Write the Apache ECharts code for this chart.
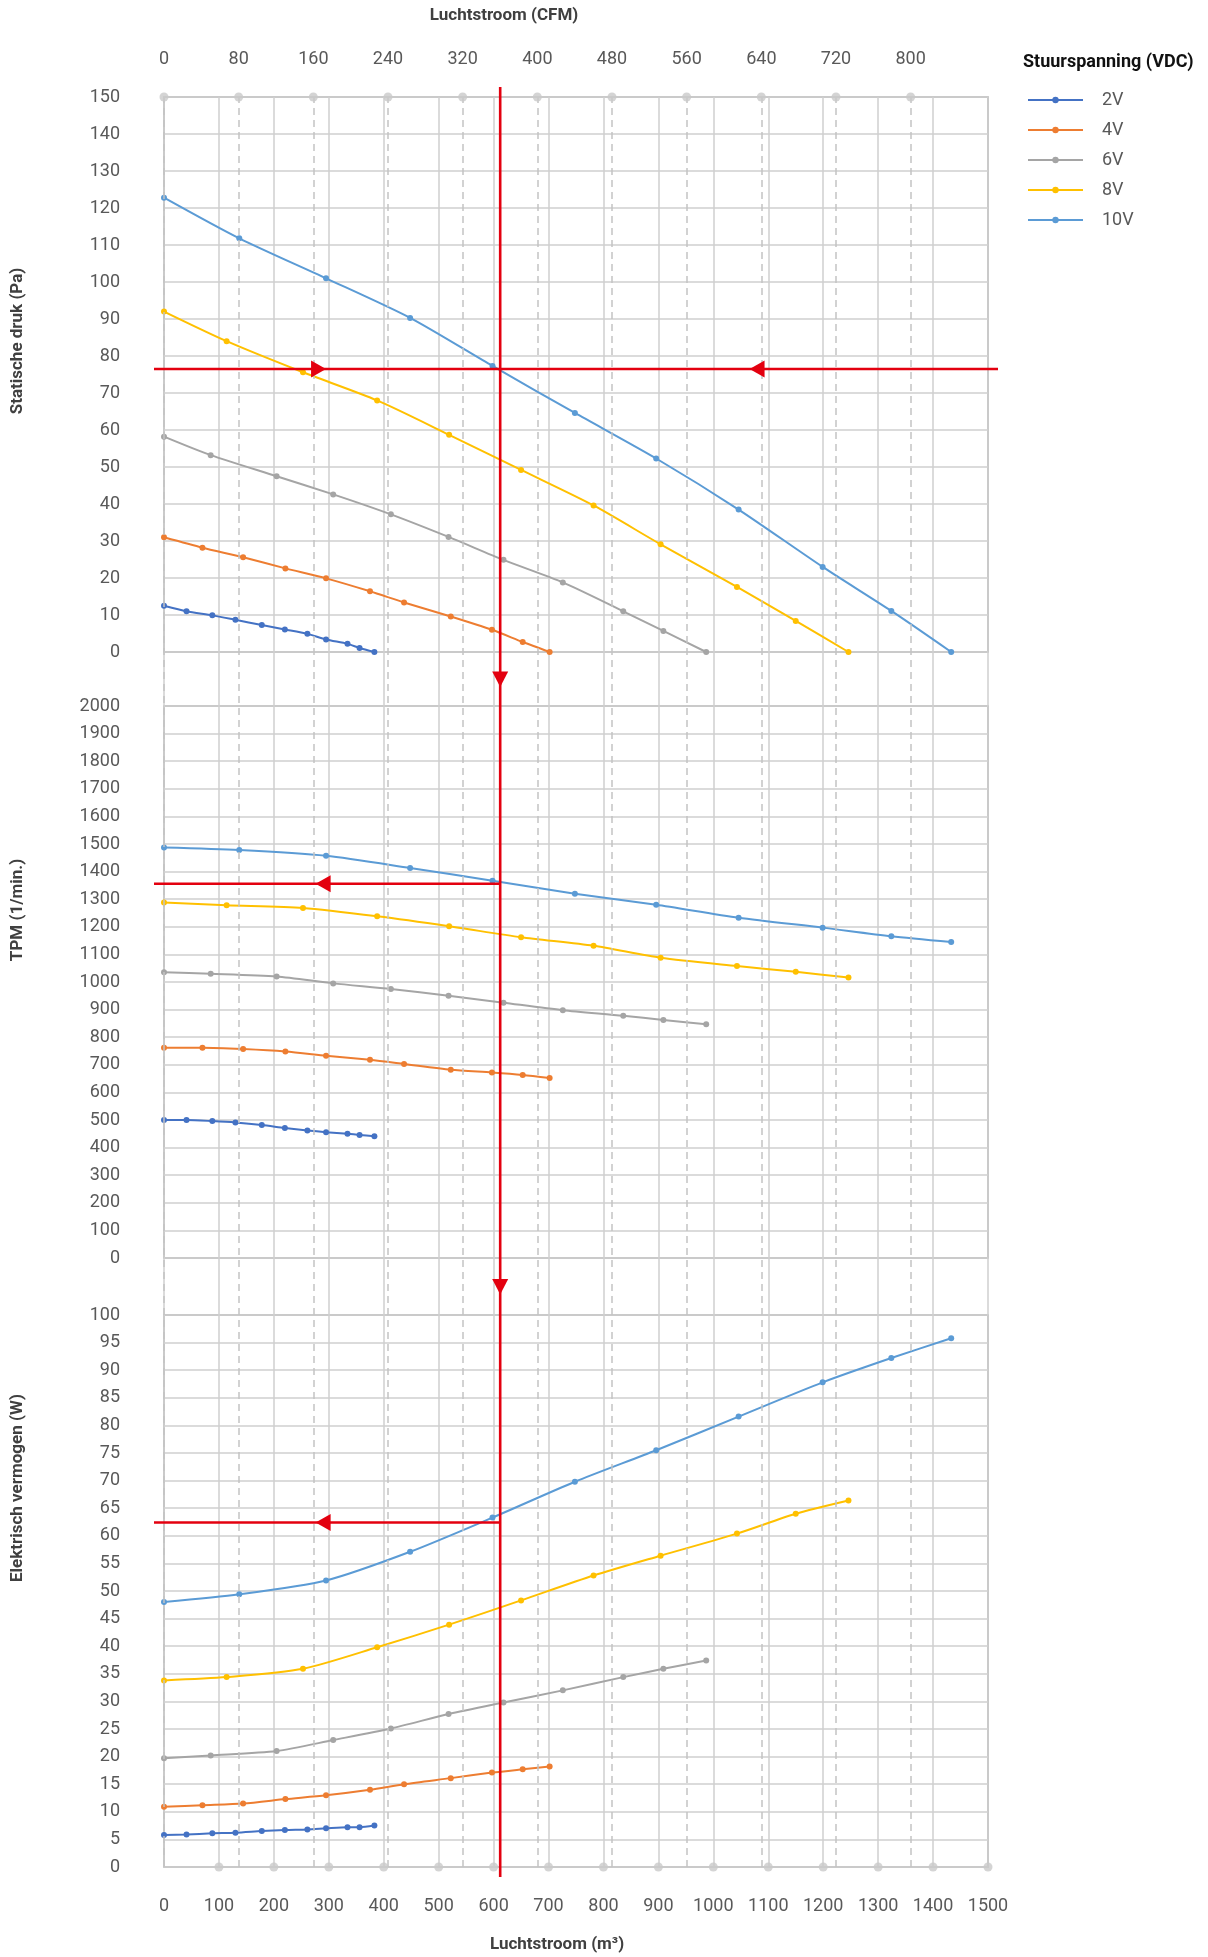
<!DOCTYPE html>
<html><head><meta charset="utf-8">
<script src="https://cdn.jsdelivr.net/npm/echarts@6/dist/echarts.min.js"></script>
<style>html,body{margin:0;padding:0;background:#fff}#c{width:1208px;height:1957px}</style>
</head><body><div id="c"></div>
<script>
// ---- data (flow in m3/h) ----
const voltages = ['2V', '4V', '6V', '8V', '10V'];
const colors = ['#4472C4', '#ED7D31', '#A5A5A5', '#FFC000', '#5B9BD5'];

const flow2V  = [0, 41, 88, 130, 178, 220, 261, 295, 334, 356, 383];
const flow4V  = [0, 70, 144, 221, 295, 375, 437, 522, 597, 653, 702];
const flow6V  = [0, 85, 205, 308, 413, 518, 618, 726, 836, 909, 987];
const flow8V  = [0, 114, 253, 388, 519, 650, 782, 904, 1043, 1150, 1246];
const flow10V = [0, 137, 295, 448, 598, 748, 896, 1046, 1199, 1324, 1433];

const pa2V  = [12.5, 11.0, 9.9, 8.7, 7.3, 6.1, 4.9, 3.4, 2.2, 1.1, 0];
const pa4V  = [31.0, 28.2, 25.6, 22.6, 19.9, 16.4, 13.4, 9.6, 6.0, 2.7, 0];
const pa6V  = [58.2, 53.2, 47.5, 42.6, 37.2, 31.1, 24.9, 18.8, 11.0, 5.7, 0];
const pa8V  = [92.0, 84.0, 75.6, 68.0, 58.7, 49.2, 39.6, 29.1, 17.6, 8.4, 0];
const pa10V = [122.8, 111.8, 101.0, 90.3, 77.3, 64.6, 52.3, 38.5, 23.0, 11.1, 0];

const rpm2V  = [500, 500, 496, 491, 482, 471, 462, 456, 450, 446, 441];
const rpm4V  = [762, 762, 757, 748, 733, 718, 703, 682, 672, 663, 652];
const rpm6V  = [1035, 1030, 1020, 995, 975, 950, 925, 898, 878, 862, 847];
const rpm8V  = [1288, 1278, 1268, 1238, 1202, 1162, 1131, 1088, 1058, 1037, 1016];
const rpm10V = [1487, 1478, 1457, 1413, 1367, 1320, 1280, 1233, 1197, 1166, 1145];

const watt2V  = [5.8, 5.9, 6.1, 6.2, 6.5, 6.7, 6.8, 7.0, 7.2, 7.2, 7.5];
const watt4V  = [10.9, 11.2, 11.5, 12.3, 13.0, 14.0, 15.0, 16.1, 17.1, 17.7, 18.2];
const watt6V  = [19.7, 20.2, 21.0, 23.0, 25.1, 27.7, 29.8, 32.0, 34.4, 35.9, 37.4];
const watt8V  = [33.8, 34.4, 35.9, 39.8, 43.9, 48.3, 52.8, 56.4, 60.4, 64.0, 66.4];
const watt10V = [48.0, 49.4, 51.9, 57.1, 63.3, 69.8, 75.5, 81.6, 87.8, 92.2, 95.8];

const cfmTicks = [0, 80, 160, 240, 320, 400, 480, 560, 640, 720, 800];
const flowDotTicks = [100, 200, 300, 400, 500, 600, 700, 800, 900, 1000, 1100, 1200, 1300, 1400, 1500];
const M3H_PER_CFM = 1.699;

// reading example (red guide)
const guideFlow = 612;
const guidePa = 76.5;
const guideRpm = 1356;
const guideWatt = 62.4;
const arrowRightPaFlow = 295;
const arrowLeftPaFlow = 1066;
const arrowLeftRpmFlow = 276;
const arrowLeftWattFlow = 276;

// ---- build ----
const flows = [flow2V, flow4V, flow6V, flow8V, flow10V];
const panels = [
  [pa2V, pa4V, pa6V, pa8V, pa10V],
  [rpm2V, rpm4V, rpm6V, rpm8V, rpm10V],
  [watt2V, watt4V, watt6V, watt8V, watt10V]
];
const FONT = 'Roboto';
const LBL = '#595959';
const GRIDC = '#cfcfcf';
const BORDER = '#a8a8a8';
const plain = v => String(v);

const L = 164, W = 824;
const panelTop = [97, 706, 1315];
const panelH = [555, 552, 552];

const chart = echarts.init(document.getElementById('c'), null, {renderer: 'canvas'});

const grids = [{left: L, top: 97, width: W, height: 1770, show: false}];
panelTop.forEach((t, i) => grids.push({left: L, top: t, width: W, height: panelH[i], show: true,
  borderColor: BORDER, borderWidth: 1.5, backgroundColor: 'transparent'}));

const xAxes = [
  {gridIndex: 0, type: 'value', min: 0, max: 1500, interval: 100, position: 'bottom',
   axisLine: {show: false}, axisTick: {show: false},
   axisLabel: {fontFamily: FONT, fontSize: 18, color: LBL, margin: 30, formatter: plain},
   splitLine: {show: true, lineStyle: {color: GRIDC, width: 1.5}}},
  {gridIndex: 0, type: 'value', min: 0, max: 1500 / M3H_PER_CFM, interval: 80, position: 'top',
   axisLine: {show: false}, axisTick: {show: false},
   axisLabel: {fontFamily: FONT, fontSize: 18, color: LBL, margin: 29,
     formatter: v => (cfmTicks.indexOf(v) >= 0 ? String(v) : '')},
   splitLine: {show: false}}
];
[1, 2, 3].forEach(g => xAxes.push({gridIndex: g, type: 'value', min: 0, max: 1500, show: false}));

const yRanges = [[150, 10], [2000, 100], [100, 5]];
const yAxes = [{gridIndex: 0, type: 'value', min: 0, max: 1, show: false}];
yRanges.forEach((r, i) => yAxes.push({gridIndex: i + 1, type: 'value', min: 0, max: r[0], interval: r[1],
  axisLine: {show: false}, axisTick: {show: false},
  axisLabel: {fontFamily: FONT, fontSize: 18, color: LBL, margin: 44, formatter: plain},
  splitLine: {show: true, lineStyle: {color: GRIDC, width: 1.5}}}));

const series = [];
panels.forEach((vals, p) => {
  vals.forEach((arr, v) => {
    series.push({
      type: 'line', name: voltages[v], xAxisIndex: 2 + p, yAxisIndex: 1 + p,
      data: flows[v].map((f, i) => [f, arr[i]]),
      smooth: 0.25, symbol: 'circle', symbolSize: 6, showSymbol: true,
      color: colors[v], lineStyle: {width: 2, color: colors[v]}, itemStyle: {color: colors[v]},
      z: 4, silent: true
    });
  });
});
// axis dots + CFM dashed guide lines
series.push({
  type: 'scatter', xAxisIndex: 1, yAxisIndex: 0, clip: false, z: 6, silent: true,
  symbolSize: 9, itemStyle: {color: '#c9c9c9'},
  data: cfmTicks.map(c => [c, 1]),
  markLine: {silent: true, symbol: ['none', 'none'], label: {show: false},
    lineStyle: {type: [7, 5], color: '#c4c4c4', width: 1.5},
    data: cfmTicks.map(c => ({xAxis: c}))}
});
series.push({
  type: 'scatter', xAxisIndex: 0, yAxisIndex: 0, clip: false, z: 6, silent: true,
  symbolSize: 9, itemStyle: {color: '#c9c9c9'},
  data: flowDotTicks.map(f => [f, 0])
});

const titleStyle = {fontFamily: FONT, fontWeight: 'bold', fontSize: 17, fill: '#404040'};
function txt(text, x, y, rot, extra) {
  return Object.assign({type: 'text', x: x, y: y, rotation: rot || 0, z: 10, silent: true,
    style: Object.assign({text: text, align: 'center', verticalAlign: 'middle'}, titleStyle, extra || {})});
}

chart.setOption({
  animation: false,
  backgroundColor: '#fff',
  grid: grids, xAxis: xAxes, yAxis: yAxes, series: series,
  legend: {
    orient: 'vertical', left: 1022, top: 86, itemWidth: 55, itemHeight: 8, itemGap: 12,
    selectedMode: false, data: voltages,
    textStyle: {fontFamily: FONT, fontSize: 18, color: LBL, padding: [0, 0, 0, 14]}
  }
});

// red reading guide, placed through the chart's own scales
const RED = '#e3000f';
const px = (g, x, y) => chart.convertToPixel({gridIndex: g}, [x, y]);
const xg = px(1, guideFlow, 0)[0];
const x0 = px(1, 0, 0)[0];
const x1 = px(1, 1500, 0)[0];
const topY = px(1, 0, 150)[1];
const p1Bot = px(1, 0, 0)[1];
const p2Top = px(2, 0, 2000)[1];
const p2Bot = px(2, 0, 0)[1];
const p3Top = px(3, 0, 100)[1];
const botY = px(3, 0, 0)[1];
const yPa = px(1, 0, guidePa)[1];
const yRpm = px(2, 0, guideRpm)[1];
const yWatt = px(3, 0, guideWatt)[1];
const lineSt = {stroke: RED, lineWidth: 2.6};
const line = (a, b, c, d) => ({type: 'line', z: 20, silent: true, shape: {x1: a, y1: b, x2: c, y2: d}, style: lineSt});
const poly = pts => ({type: 'polygon', z: 21, silent: true, shape: {points: pts}, style: {fill: RED}});
const arrowR = (tx, ty) => poly([[tx - 15, ty - 8.5], [tx, ty], [tx - 15, ty + 8.5]]);
const arrowL = (tx, ty) => poly([[tx + 15, ty - 8.5], [tx, ty], [tx + 15, ty + 8.5]]);
const arrowD = (cx, cy) => poly([[cx - 8, cy - 7.5], [cx + 8, cy - 7.5], [cx, cy + 8]]);

const g = [
  txt('Luchtstroom (CFM)', 504, 16, 0),
  txt('Luchtstroom (m³)', 557, 1945, 0),
  txt('Statische druk (Pa)', 18, 341, Math.PI / 2),
  txt('TPM (1/min.)', 18, 910, Math.PI / 2),
  txt('Elektrisch vermogen (W)', 18, 1488, Math.PI / 2),
  txt('Stuurspanning (VDC)', 1023, 62, 0, {align: 'left', fontSize: 18, fill: '#111'}),
  line(xg, topY - 10, xg, botY + 10),
  line(x0 - 10, yPa, x1 + 10, yPa),
  line(x0 - 10, yRpm, xg, yRpm),
  line(x0 - 10, yWatt, xg, yWatt),
  arrowR(px(1, arrowRightPaFlow, 0)[0], yPa),
  arrowL(px(1, arrowLeftPaFlow, 0)[0], yPa),
  arrowL(px(2, arrowLeftRpmFlow, 0)[0], yRpm),
  arrowL(px(3, arrowLeftWattFlow, 0)[0], yWatt),
  arrowD(xg, (p1Bot + p2Top) / 2),
  arrowD(xg, (p2Bot + p3Top) / 2)
];
chart.setOption({graphic: g});
</script>
</body></html>
